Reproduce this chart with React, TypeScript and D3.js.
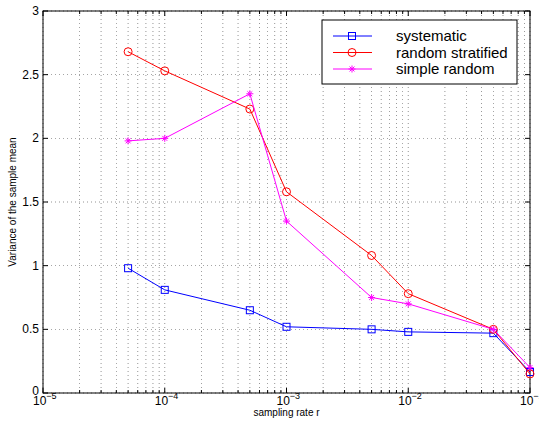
import React from "react";
import * as d3 from "d3";

const rates = [5e-5, 1e-4, 5e-4, 1e-3, 5e-3, 1e-2, 5e-2, 1e-1];
const systematic = [0.98, 0.81, 0.65, 0.52, 0.5, 0.48, 0.47, 0.165];
const randomStratified = [2.68, 2.53, 2.23, 1.58, 1.08, 0.78, 0.5, 0.15];
const simpleRandom = [1.98, 2.0, 2.35, 1.35, 0.75, 0.7, 0.5, 0.2];
const xTickExps = [-5, -4, -3, -2, -1];
const yTicks = [0, 0.5, 1, 1.5, 2, 2.5, 3];
const seriesNames = ["systematic", "random stratified", "simple random"];

const W = 539, H = 433;
const L = 43, R = 530, T = 11, B = 393;

function Marker({ kind, x, y, color }: { kind: string; x: number; y: number; color: string }) {
  if (kind === "square")
    return <rect x={x - 3.5} y={y - 3.5} width={7} height={7} fill="none" stroke={color} strokeWidth={1} />;
  if (kind === "circle") return <circle cx={x} cy={y} r={4} fill="none" stroke={color} strokeWidth={1} />;
  const s = 3.5;
  return (
    <g stroke={color} strokeWidth={1}>
      <line x1={x - s} y1={y} x2={x + s} y2={y} />
      <line x1={x} y1={y - s} x2={x} y2={y + s} />
      <line x1={x - s * 0.7} y1={y - s * 0.7} x2={x + s * 0.7} y2={y + s * 0.7} />
      <line x1={x - s * 0.7} y1={y + s * 0.7} x2={x + s * 0.7} y2={y - s * 0.7} />
    </g>
  );
}

export default function App() {
  const x = d3.scaleLog().domain([1e-5, 1e-1]).range([L, R]);
  const y = d3.scaleLinear().domain([0, 3]).range([B, T]);
  const series = [
    { name: seriesNames[0], vals: systematic, color: "#0000ff", kind: "square" },
    { name: seriesNames[1], vals: randomStratified, color: "#ff0000", kind: "circle" },
    { name: seriesNames[2], vals: simpleRandom, color: "#ff00ff", kind: "star" },
  ];
  const line = d3
    .line<[number, number]>()
    .x((d) => x(d[0]))
    .y((d) => y(d[1]));

  const minor: number[] = [];
  for (let e = -5; e < -1; e++) for (let m = 1; m <= 9; m++) minor.push(m * Math.pow(10, e));
  minor.push(1e-1);

  const font = "'Liberation Sans', Arial, Helvetica, sans-serif";
  return (
    <svg width={W} height={H} style={{ position: "absolute", left: 0, top: 0, background: "#fff" }} fontFamily={font}>
      <rect x={0} y={0} width={W} height={H} fill="#fff" />
      {/* grid */}
      {minor.map((v, i) => (
        <line key={"gx" + i} x1={x(v)} x2={x(v)} y1={T} y2={B} stroke="#000" strokeWidth={0.6} strokeDasharray="1,3" opacity={0.7} />
      ))}
      {yTicks.map((v, i) => (
        <line key={"gy" + i} x1={L} x2={R} y1={y(v)} y2={y(v)} stroke="#000" strokeWidth={0.6} strokeDasharray="1,3" opacity={0.7} />
      ))}
      {/* ticks */}
      {minor.map((v, i) => {
        const major = Number.isInteger(Math.round(Math.log10(v) * 1000) / 1000);
        const len = major ? 5 : 3;
        return (
          <g key={"tx" + i} stroke="#000" strokeWidth={1}>
            <line x1={x(v)} x2={x(v)} y1={B} y2={B - len} />
            <line x1={x(v)} x2={x(v)} y1={T} y2={T + len} />
          </g>
        );
      })}
      {yTicks.map((v, i) => (
        <g key={"ty" + i} stroke="#000" strokeWidth={1}>
          <line x1={L} x2={L + 5} y1={y(v)} y2={y(v)} />
          <line x1={R} x2={R - 5} y1={y(v)} y2={y(v)} />
        </g>
      ))}
      <rect x={L} y={T} width={R - L} height={B - T} fill="none" stroke="#000" strokeWidth={1} />
      {/* tick labels */}
      {yTicks.map((v, i) => (
        <text key={"ly" + i} x={L - 4} y={y(v) + (v === 0 ? 2 : 4)} textAnchor="end" fontSize={12}>
          {String(v)}
        </text>
      ))}
      {xTickExps.map((e, i) => (
        <text key={"lx" + i} x={x(Math.pow(10, e)) - 10} y={B + 12} fontSize={12}>
          10
          <tspan dy={-6} fontSize={9}>
            {"\u2212" + Math.abs(e)}
          </tspan>
        </text>
      ))}
      <text x={(L + R) / 2} y={416} textAnchor="middle" fontSize={10}>
        sampling rate r
      </text>
      <text transform={`translate(16,${(T + B) / 2}) rotate(-90)`} textAnchor="middle" fontSize={10}>
        Variance of the sample mean
      </text>
      {/* series */}
      {series.map((s) => {
        const pts = rates.map((r, i) => [r, s.vals[i]] as [number, number]);
        return (
          <g key={s.name}>
            <path d={line(pts) || ""} fill="none" stroke={s.color} strokeWidth={1} />
            {pts.map((p, i) => (
              <Marker key={i} kind={s.kind} x={x(p[0])} y={y(p[1])} color={s.color} />
            ))}
          </g>
        );
      })}
      {/* legend */}
      <rect x={322} y={20} width={195} height={64} fill="#fff" stroke="#000" strokeWidth={1} />
      {series.map((s, i) => {
        const ly = 36 + i * 16.5;
        return (
          <g key={"lg" + i}>
            <line x1={333} x2={372} y1={ly} y2={ly} stroke={s.color} strokeWidth={1} />
            <Marker kind={s.kind} x={352} y={ly} color={s.color} />
            <text x={396} y={ly + 5} fontSize={15}>
              {s.name}
            </text>
          </g>
        );
      })}
    </svg>
  );
}
